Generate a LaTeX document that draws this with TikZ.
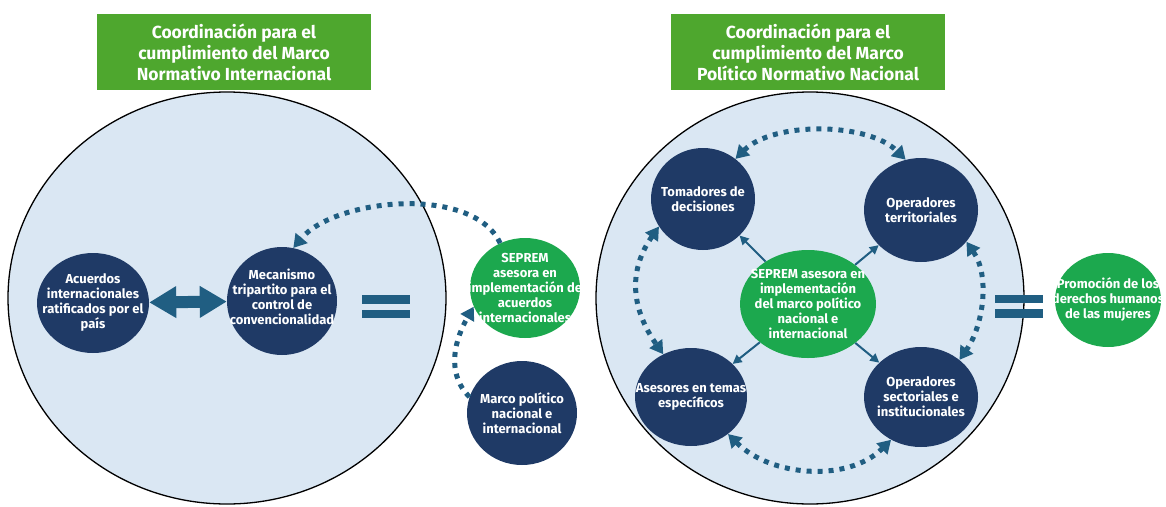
\documentclass[tikz,border=0pt]{standalone}
\usepackage{fontspec}
\setmainfont{Fira Sans}
\usetikzlibrary{arrows.meta,shapes.geometric,positioning}
\definecolor{navyc}{RGB}{31,58,102}
\definecolor{sepc}{RGB}{28,168,78}
\definecolor{titlec}{RGB}{78,167,46}
\definecolor{arrowc}{RGB}{32,94,130}
\definecolor{lightc}{RGB}{218,231,243}
\tikzstyle{bigring}=[ellipse,draw=black,line width=1.3pt,fill=lightc,inner sep=0pt]
\tikzstyle{txt}=[text=white,font=\bfseries\fontsize{13}{15}\selectfont,align=center,inner sep=0pt]
\tikzstyle{dark}=[ellipse,fill=navyc,inner sep=0pt]
\tikzstyle{seprem}=[ellipse,fill=sepc,inner sep=0pt]
\tikzstyle{titlebox}=[fill=titlec,text=white,font=\bfseries\fontsize{17.5}{21}\selectfont,align=center,minimum width=274pt,minimum height=76pt,inner sep=0pt]
\tikzstyle{dotarrow}=[draw=arrowc,line width=5pt,dash pattern=on 5pt off 6pt,-{Triangle[length=13pt,width=15pt]}]
\tikzstyle{dotboth}=[dotarrow,{Triangle[length=13pt,width=15pt]}-{Triangle[length=13pt,width=15pt]}]
\tikzstyle{thinarrow}=[draw=arrowc,line width=2pt,-{Triangle[length=9pt,width=9pt]}]
\tikzstyle{blockarrow}=[draw=arrowc,line width=12pt,{Triangle[length=27pt,width=30pt]}-{Triangle[length=27pt,width=30pt]}]
\begin{document}
\begin{tikzpicture}[x=1pt,y=-1pt]
\useasboundingbox (0,0) rectangle (1166,506);
% left ring
\node[titlebox] (titL) at (234,52) {Coordinación para el\\cumplimiento del Marco\\Normativo Internacional};
\node[bigring,minimum width=438pt,minimum height=412pt] (ringL) at (227,298) {};
\node[dark,minimum width=112pt,minimum height=100pt,label={[txt]center:Acuerdos\\internacionales\\ratificados por el\\país}] (acu) at (93,303) {};
\node[dark,minimum width=110pt,minimum height=108pt,label={[txt,yshift=4pt]center:Mecanismo\\tripartito para el\\control de\\convencionalidad}] (mec) at (282,301) {};
\draw[blockarrow] (acu) -- (mec);
\fill[arrowc] (362,295) rectangle (410,304);
\fill[arrowc] (362,310) rectangle (410,318);
\node[seprem,minimum width=110pt,minimum height=100pt,label={[txt]center:SEPREM\\asesora en\\implementación de\\acuerdos\\internacionales}] (sepA) at (525,288) {};
\node[dark,minimum width=110pt,minimum height=104pt,label={[txt]center:Marco político\\nacional e\\internacional}] (marco) at (522,413) {};
\draw[dotarrow] (sepA.119) to[out=115,in=50,looseness=0.8] (mec.78);
\draw[dotarrow] (marco.163) to[out=135,in=240] (sepA.200);
% right ring
\node[titlebox] (titR) at (808,52) {Coordinación para el\\cumplimiento del Marco\\Político Normativo Nacional};
\node[bigring,minimum width=428pt,minimum height=412pt] (ringR) at (810,298) {};
\node[dark,minimum width=104pt,minimum height=102pt,label={[txt]center:Tomadores de\\decisiones}] (tom) at (703,199) {};
\node[dark,minimum width=114pt,minimum height=104pt,label={[txt]center:Operadores\\territoriales}] (opt) at (921,210) {};
\node[seprem,minimum width=136pt,minimum height=108pt,label={[txt]center:SEPREM asesora en\\implementación\\del marco político\\nacional e\\internacional}] (sepB) at (808,304) {};
\node[dark,minimum width=112pt,minimum height=98pt,label={[txt]center:Asesores en temas\\específicos}] (ase) at (691,397) {};
\node[dark,minimum width=114pt,minimum height=100pt,label={[txt]center:Operadores\\sectoriales e\\institucionales}] (ops) at (921,397) {};
\foreach \t in {tom,opt,ase,ops}
  \draw[thinarrow] (sepB) -- (\t);
\draw[dotboth] (tom.51) to[out=45,in=135,looseness=0.8] (opt.107);
\draw[dotboth] (tom.212) to[out=235,in=125,looseness=1.1] (ase.123);
\draw[dotboth] (opt.-35) to[out=-55,in=55,looseness=0.9] (ops.44);
\draw[dotboth] (ase.-45) to[out=-45,in=-135,looseness=0.95] (ops.-125);
\fill[arrowc] (995,295) rectangle (1043,303);
\fill[arrowc] (995,309) rectangle (1043,318);
\node[seprem,minimum width=106pt,minimum height=94pt,label={[txt]center:Promoción de los\\derechos humanos\\de las mujeres}] (pro) at (1108,300) {};
\end{tikzpicture}
\end{document}
